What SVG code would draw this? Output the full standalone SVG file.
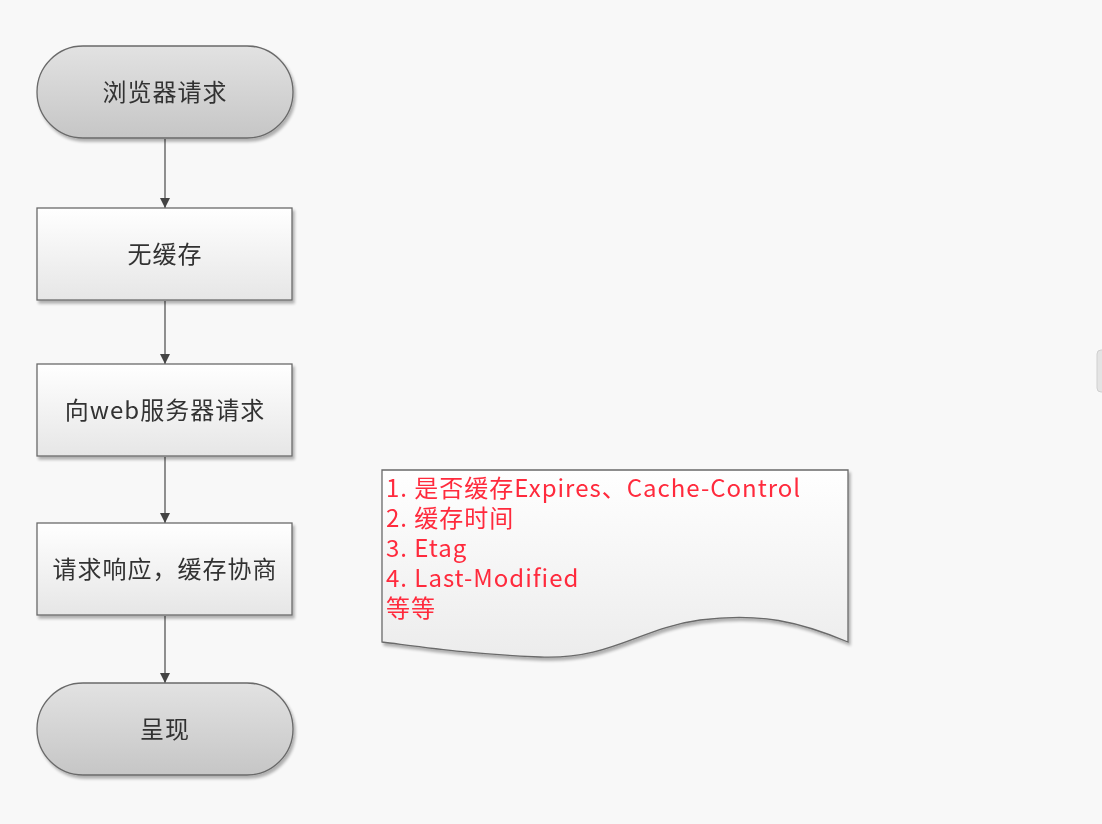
<svg xmlns="http://www.w3.org/2000/svg" width="1102" height="824" viewBox="0 0 1102 824">
<defs>
<linearGradient id="gTerm" x1="0" y1="0" x2="0" y2="1"><stop offset="0" stop-color="#e2e2e2"/><stop offset="1" stop-color="#c6c6c6"/></linearGradient>
<linearGradient id="gBox" x1="0" y1="0" x2="0" y2="1"><stop offset="0" stop-color="#ffffff"/><stop offset="1" stop-color="#e6e6e6"/></linearGradient>
<linearGradient id="gDoc" x1="0" y1="0" x2="0" y2="1"><stop offset="0" stop-color="#ffffff"/><stop offset="1" stop-color="#ececec"/></linearGradient>
<filter id="sh" x="-10%" y="-10%" width="130%" height="140%"><feGaussianBlur in="SourceAlpha" stdDeviation="1.5"/><feOffset dx="2" dy="3"/><feComponentTransfer><feFuncA type="linear" slope="0.3"/></feComponentTransfer><feMerge><feMergeNode/><feMergeNode in="SourceGraphic"/></feMerge></filter>
<marker id="arr" viewBox="0 0 10 10" refX="10" refY="5" markerWidth="10" markerHeight="10" markerUnits="userSpaceOnUse" orient="auto"><path d="M0,0 L10,5 L0,10 z" fill="#444"/></marker>
<style>
.term{fill:url(#gTerm);stroke:#6a6a6a;stroke-width:1.3}
.box{fill:url(#gBox);stroke:#6a6a6a;stroke-width:1.3}
.lbl{font-family:"Noto Sans CJK SC","Noto Sans",sans-serif;font-size:24px;letter-spacing:1px;fill:#333;text-anchor:middle;dominant-baseline:central}
.note{font-family:"Noto Sans CJK SC","Noto Sans",sans-serif;font-size:24px;letter-spacing:1px;fill:#ff2a3c}
.conn{stroke:#555;stroke-width:1.3;fill:none}
</style>
</defs>
<rect width="1102" height="824" fill="#f8f8f8"/>
<rect x="1097" y="350" width="10" height="42" rx="4" fill="#e4e4e4" stroke="#d0d0d0"/>
<g id="connectors">
<line class="conn" x1="165" y1="139" x2="165" y2="208" marker-end="url(#arr)"/>
<line class="conn" x1="165" y1="301" x2="165" y2="364" marker-end="url(#arr)"/>
<line class="conn" x1="165" y1="457" x2="165" y2="523" marker-end="url(#arr)"/>
<line class="conn" x1="165" y1="616" x2="165" y2="683" marker-end="url(#arr)"/>
</g>
<g id="n1" filter="url(#sh)"><rect class="term" x="37" y="46" width="256" height="92" rx="46"/><text class="lbl" x="165" y="90">浏览器请求</text></g>
<g id="n2" filter="url(#sh)"><rect class="box" x="37" y="208" width="255" height="92"/><text class="lbl" x="165" y="252">无缓存</text></g>
<g id="n3" filter="url(#sh)"><rect class="box" x="37" y="364" width="255" height="92"/><text class="lbl" x="165" y="408">向web服务器请求</text></g>
<g id="n4" filter="url(#sh)"><rect class="box" x="37" y="523" width="255" height="92"/><text class="lbl" x="165" y="567">请求响应，缓存协商</text></g>
<g id="n5" filter="url(#sh)"><rect class="term" x="37" y="683" width="256" height="92" rx="46"/><text class="lbl" x="165" y="727">呈现</text></g>
<g id="note" filter="url(#sh)">
<path d="M382,470 L848,470 L848,642 C800,622 760,612 700,620 C640,628 610,660 540,657 C470,654 430,648 382,642 Z" fill="url(#gDoc)" stroke="#6a6a6a" stroke-width="1.3"/>
<text class="note" x="386" y="497">1. 是否缓存Expires、Cache-Control</text>
<text class="note" x="386" y="527">2. 缓存时间</text>
<text class="note" x="386" y="557">3. Etag</text>
<text class="note" x="386" y="587">4. Last-Modified</text>
<text class="note" x="386" y="617">等等</text>
</g>
</svg>
